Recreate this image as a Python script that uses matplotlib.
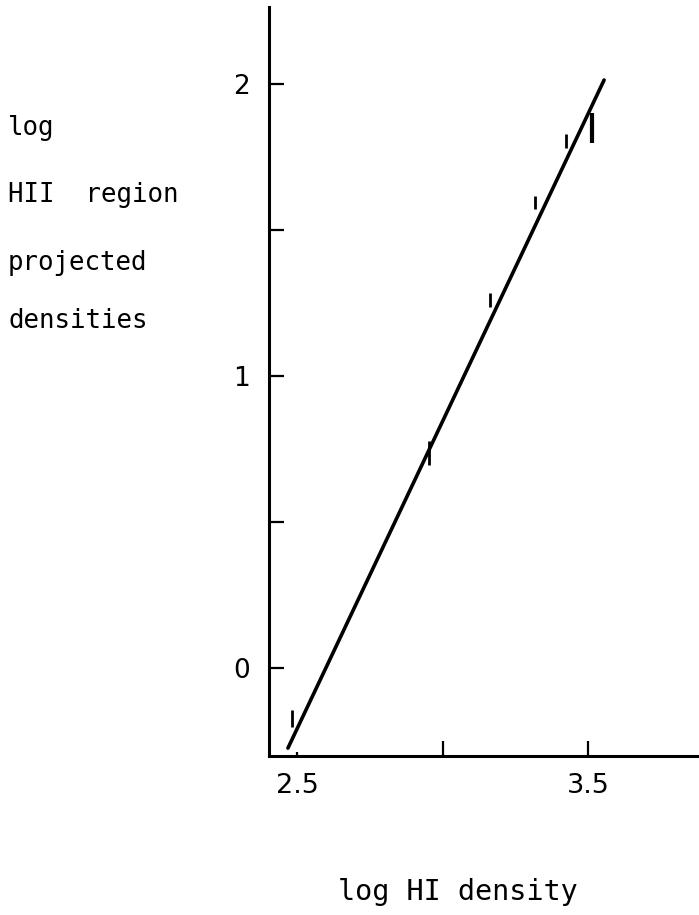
#log HII region projected density vs log HI density
import numpy as np
import matplotlib.pyplot as plt

# fitted line end points
fit_x = [2.469, 3.555]
fit_y = [-0.274, 2.014]

# measured points drawn as vertical error bars
err_x = [2.483, 2.954, 3.163, 3.318, 3.424, 3.514]
err_lo = [-0.202, 0.694, 1.238, 1.573, 1.781, 1.798]
err_hi = [-0.144, 0.779, 1.285, 1.617, 1.829, 1.901]
err_w = [2.0, 2.0, 2.0, 2.0, 2.0, 3.0]

xticks = [2.5, 3.0, 3.5]
xlabels = ['2.5', '', '3.5']
yticks = [0, 0.5, 1, 1.5, 2]
ylabels = ['0', '', '1', '', '2']

W, H = 699, 915
mono = 'DejaVu Sans Mono'

fig = plt.figure(figsize=(W/100, H/100), dpi=100)
ax = fig.add_axes([269/W, 1-756/H, 1-269/W, (756-7)/H])

ax.plot(fit_x, fit_y, color='black', lw=2.6, solid_capstyle='round')
ax.vlines(err_x, err_lo, err_hi, colors='black', linewidths=err_w)

ax.set_xlim(2.404, 3.881)
ax.set_ylim(-0.301, 2.264)

for s in ['top', 'right']:
    ax.spines[s].set_visible(False)
for s in ['left', 'bottom']:
    ax.spines[s].set_linewidth(2.2)

ax.set_xticks(xticks)
ax.set_xticklabels(xlabels, fontfamily='DejaVu Sans', fontsize=19.5)
ax.set_yticks(yticks)
ax.set_yticklabels(ylabels, fontfamily='DejaVu Sans', fontsize=19)
ax.tick_params(axis='x', direction='in', length=11, width=1.6, pad=12)
ax.tick_params(axis='y', direction='in', length=11, width=1.6, pad=14)
# the 2.5 tick is only a stub
ax.xaxis.get_major_ticks()[0].tick1line.set_markersize(3)

ylab = ['log', 'HII  region', 'projected', 'densities']
ybase = [135, 202, 270, 328]
for t, yb in zip(ylab, ybase):
    fig.text(8/W, 1-yb/H, t, fontfamily=mono, fontsize=18.5, va='baseline', ha='left')

fig.text(338/W, 1-900/H, 'log HI density', fontfamily=mono, fontsize=20.5, va='baseline', ha='left')

plt.savefig('out.png', dpi=100)
